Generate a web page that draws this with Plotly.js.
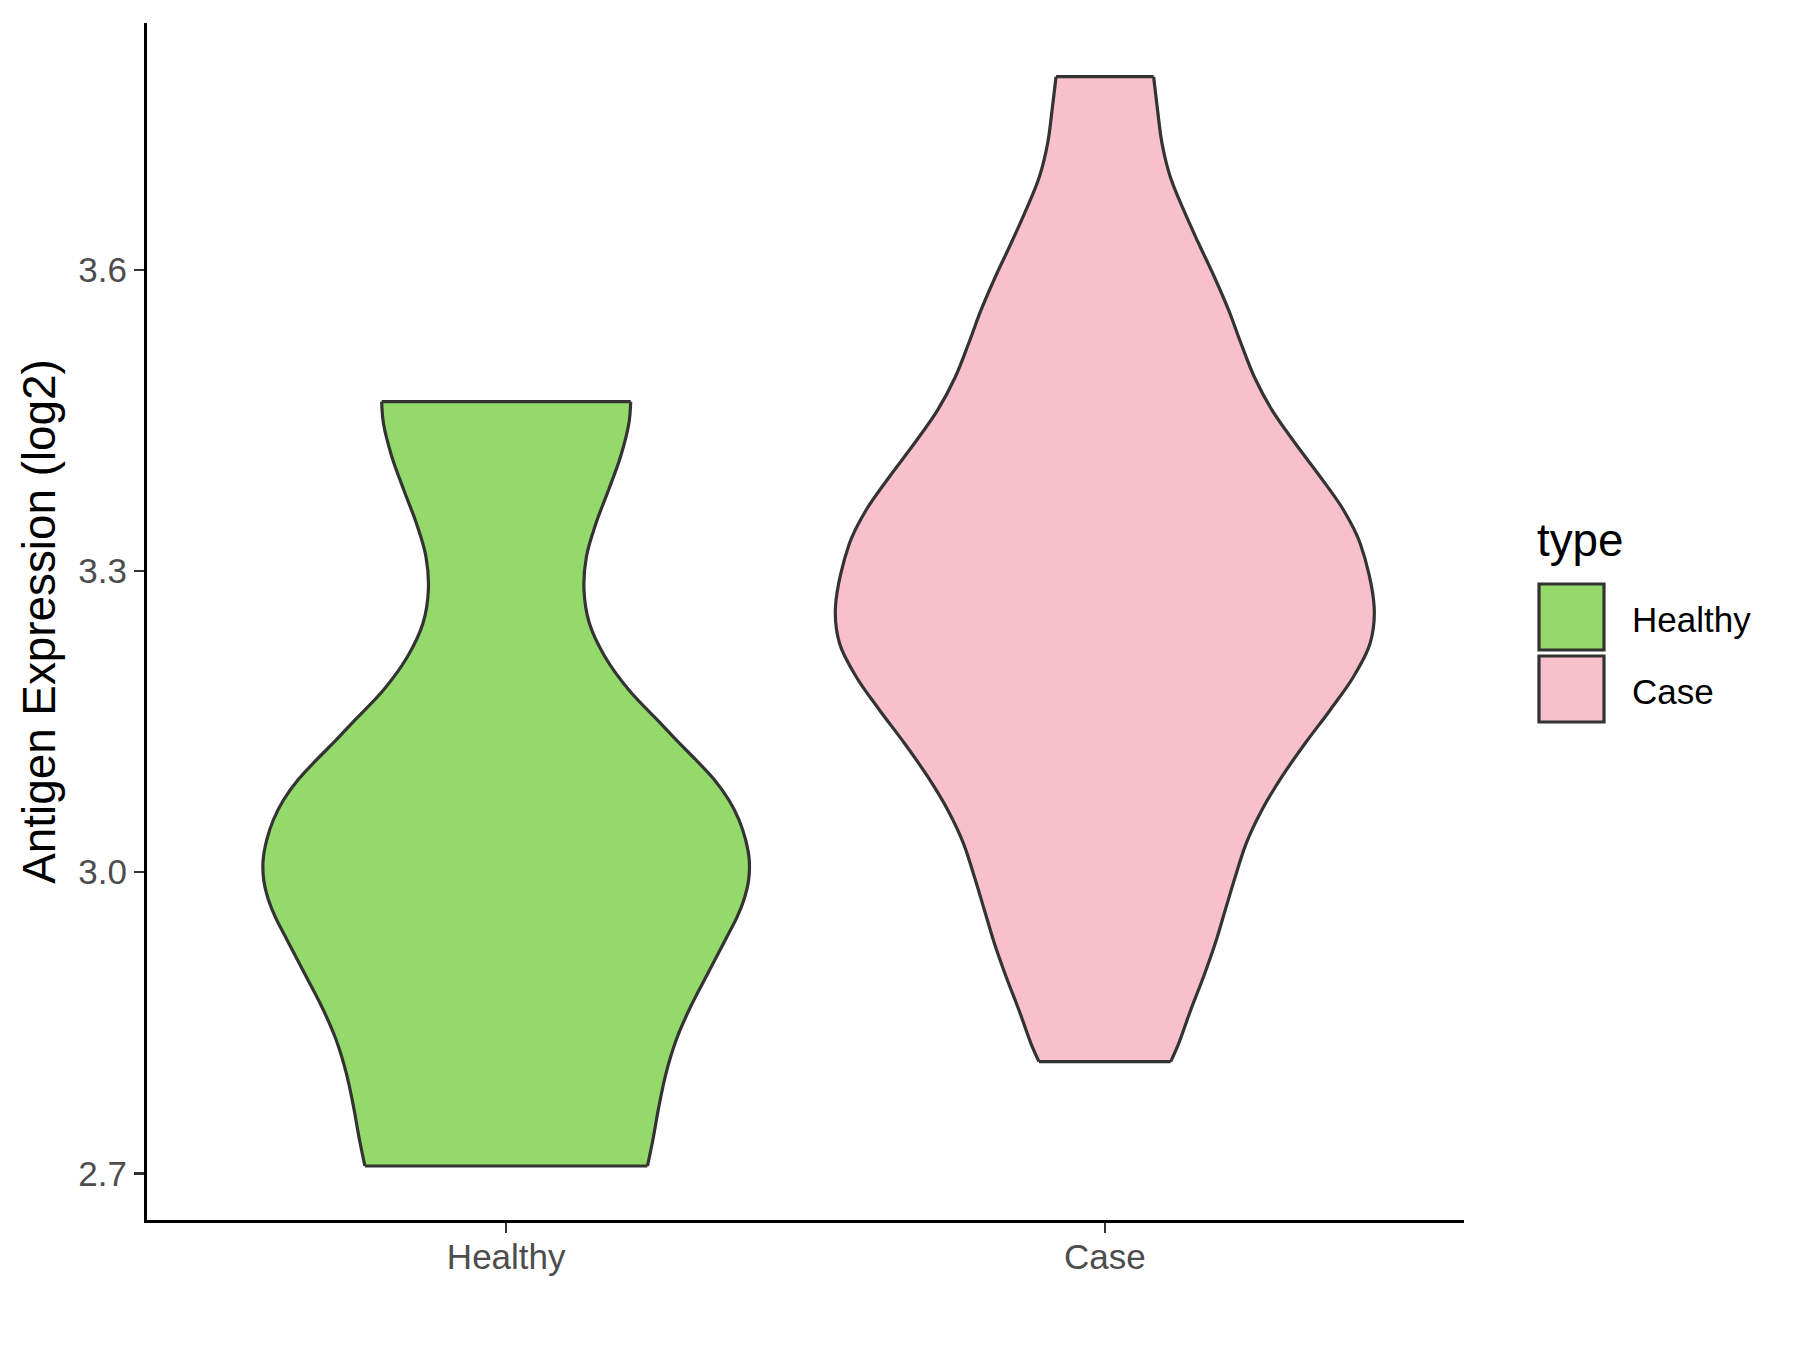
<!DOCTYPE html>
<html><head><meta charset="utf-8">
<script src="https://cdn.plot.ly/plotly-3.0.1.min.js"></script>
<style>html,body{margin:0;padding:0;background:#fff}#chart{width:1800px;height:1350px}</style>
</head><body><div id="chart"></div>
<script>
// ---- data ----
const categories = ['Healthy', 'Case'];
const fillColors = ['#93DA6A', '#F7C0CB'];

// violin outline: y level and half-width (in category units), top to bottom
const healthyLevels = [3.4686, 3.4471, 3.4138, 3.3807, 3.3475, 3.3142, 3.2811, 3.2479, 3.2146, 3.1815, 3.1483, 3.1317, 3.1118, 3.0918, 3.0719, 3.0520, 3.0321, 3.0122, 2.9922, 2.9723, 2.9557, 2.9325, 2.8993, 2.8660, 2.8329, 2.7997, 2.7664, 2.7333, 2.7074];
const healthyHalfWidth = [0.208, 0.205, 0.191, 0.171, 0.150, 0.134, 0.130, 0.139, 0.165, 0.205, 0.258, 0.284, 0.317, 0.348, 0.372, 0.389, 0.400, 0.406, 0.405, 0.397, 0.386, 0.366, 0.337, 0.308, 0.284, 0.267, 0.255, 0.245, 0.236];

const caseLevels = [3.7923, 3.7592, 3.7260, 3.6927, 3.6596, 3.6264, 3.5931, 3.5600, 3.5268, 3.4935, 3.4604, 3.4272, 3.3939, 3.3608, 3.3276, 3.2644, 3.2280, 3.1947, 3.1616, 3.1284, 3.0951, 3.0620, 3.0288, 2.9955, 2.9624, 2.9292, 2.8959, 2.8628, 2.8296, 2.8113];
const caseHalfWidth = [0.0815, 0.0881, 0.0955, 0.1093, 0.1316, 0.1566, 0.1828, 0.2067, 0.2274, 0.2496, 0.2791, 0.3180, 0.3598, 0.3987, 0.4265, 0.4499, 0.4432, 0.4154, 0.3765, 0.3347, 0.2958, 0.2624, 0.2362, 0.2179, 0.2012, 0.1845, 0.1649, 0.1435, 0.1235, 0.1100];

const yTickValues = [2.7, 3.0, 3.3, 3.6];
const yTitle = 'Antigen Expression (log2)';
const legendTitle = 'type';

// ---- build ----
const FONT = 'Liberation Sans, Arial, Helvetica, sans-serif';
const levelsList = [healthyLevels, caseLevels];
const widthList = [healthyHalfWidth, caseHalfWidth];
const OUTLINE = {color: '#333333', width: 3.2};

function side(pos, levels, hw, sign) {
  return {xs: levels.map((v, k) => pos + sign * hw[k]), ys: levels.slice()};
}

const fillTraces = [], lineTraces = [];
categories.forEach((name, i) => {
  const pos = i + 1;
  const r = side(pos, levelsList[i], widthList[i], 1);
  const l = side(pos, levelsList[i], widthList[i], -1);
  // body: left side, then right side filled to it (ends joined by straight edges)
  fillTraces.push({type: 'scatter', mode: 'lines', name: name + ' left', x: l.xs, y: l.ys,
    line: {color: 'rgba(0,0,0,0)', width: 0, shape: 'spline', smoothing: 1}, showlegend: false, hoverinfo: 'skip'});
  fillTraces.push({type: 'scatter', mode: 'lines', name: name, x: r.xs, y: r.ys, fill: 'tonextx', fillcolor: fillColors[i],
    line: {color: 'rgba(0,0,0,0)', width: 0, shape: 'spline', smoothing: 1}, showlegend: false, hoverinfo: 'skip'});
  // outline
  lineTraces.push({type: 'scatter', mode: 'lines', x: r.xs, y: r.ys, line: Object.assign({shape: 'spline', smoothing: 1}, OUTLINE), showlegend: false, hoverinfo: 'skip'});
  lineTraces.push({type: 'scatter', mode: 'lines', x: l.xs, y: l.ys, line: Object.assign({shape: 'spline', smoothing: 1}, OUTLINE), showlegend: false, hoverinfo: 'skip'});
  const n = r.xs.length - 1;
  lineTraces.push({type: 'scatter', mode: 'lines', x: [l.xs[0], r.xs[0]], y: [l.ys[0], r.ys[0]], line: OUTLINE, showlegend: false, hoverinfo: 'skip'});
  lineTraces.push({type: 'scatter', mode: 'lines', x: [l.xs[n], r.xs[n]], y: [l.ys[n], r.ys[n]], line: OUTLINE, showlegend: false, hoverinfo: 'skip'});
});
const traces = fillTraces.concat(lineTraces);

const M = {l: 147, r: 336, t: 23, b: 130};
const W = 1800, H = 1350;
const pw = W - M.l - M.r, ph = H - M.t - M.b;
const pxX = x => (x - M.l) / pw;
const pxY = y => (H - M.b - y) / ph;

// manual legend (ggplot style big keys)
const shapes = [], annotations = [];
annotations.push({xref: 'paper', yref: 'paper', x: pxX(1535), y: pxY(540), xanchor: 'left', yanchor: 'middle',
  text: legendTitle, showarrow: false, font: {family: FONT, size: 45.8, color: '#000'}});
const keyTop = [584, 656];
categories.forEach((name, i) => {
  shapes.push({type: 'rect', xref: 'paper', yref: 'paper', x0: pxX(1539), x1: pxX(1604),
    y0: pxY(keyTop[i]), y1: pxY(keyTop[i] + 66), fillcolor: fillColors[i], line: {color: '#333333', width: 3.2}});
  annotations.push({xref: 'paper', yref: 'paper', x: pxX(1630), y: pxY(keyTop[i] + 35), xanchor: 'left', yanchor: 'middle',
    text: name, showarrow: false, font: {family: FONT, size: 35, color: '#000'}});
});

const layout = {
  width: W, height: H, margin: M,
  paper_bgcolor: '#fff', plot_bgcolor: '#fff',
  font: {family: FONT},
  showlegend: false,
  xaxis: {
    range: [0.4, 2.6], tickvals: categories.map((c, i) => i + 1), ticktext: categories,
    showgrid: false, zeroline: false, showline: true, linecolor: '#000', linewidth: 3,
    ticks: 'outside', ticklen: 10, tickwidth: 2.2, tickcolor: '#333',
    ticklabelstandoff: -6,
    tickfont: {family: FONT, size: 35, color: '#4D4D4D'}, fixedrange: true
  },
  yaxis: {
    range: [2.6536, 3.8458], tickvals: yTickValues, tickformat: '.1f',
    showgrid: false, zeroline: false, showline: true, linecolor: '#000', linewidth: 3,
    ticks: 'outside', ticklen: 10, tickwidth: 2.2, tickcolor: '#333',
    tickfont: {family: FONT, size: 35, color: '#4D4D4D'},
    title: {text: yTitle, font: {family: FONT, size: 45.8, color: '#000'}, standoff: 9},
    automargin: false
  },
  shapes: shapes, annotations: annotations
};

Plotly.newPlot('chart', traces, layout, {staticPlot: true, displayModeBar: false});
</script>
</body></html>
